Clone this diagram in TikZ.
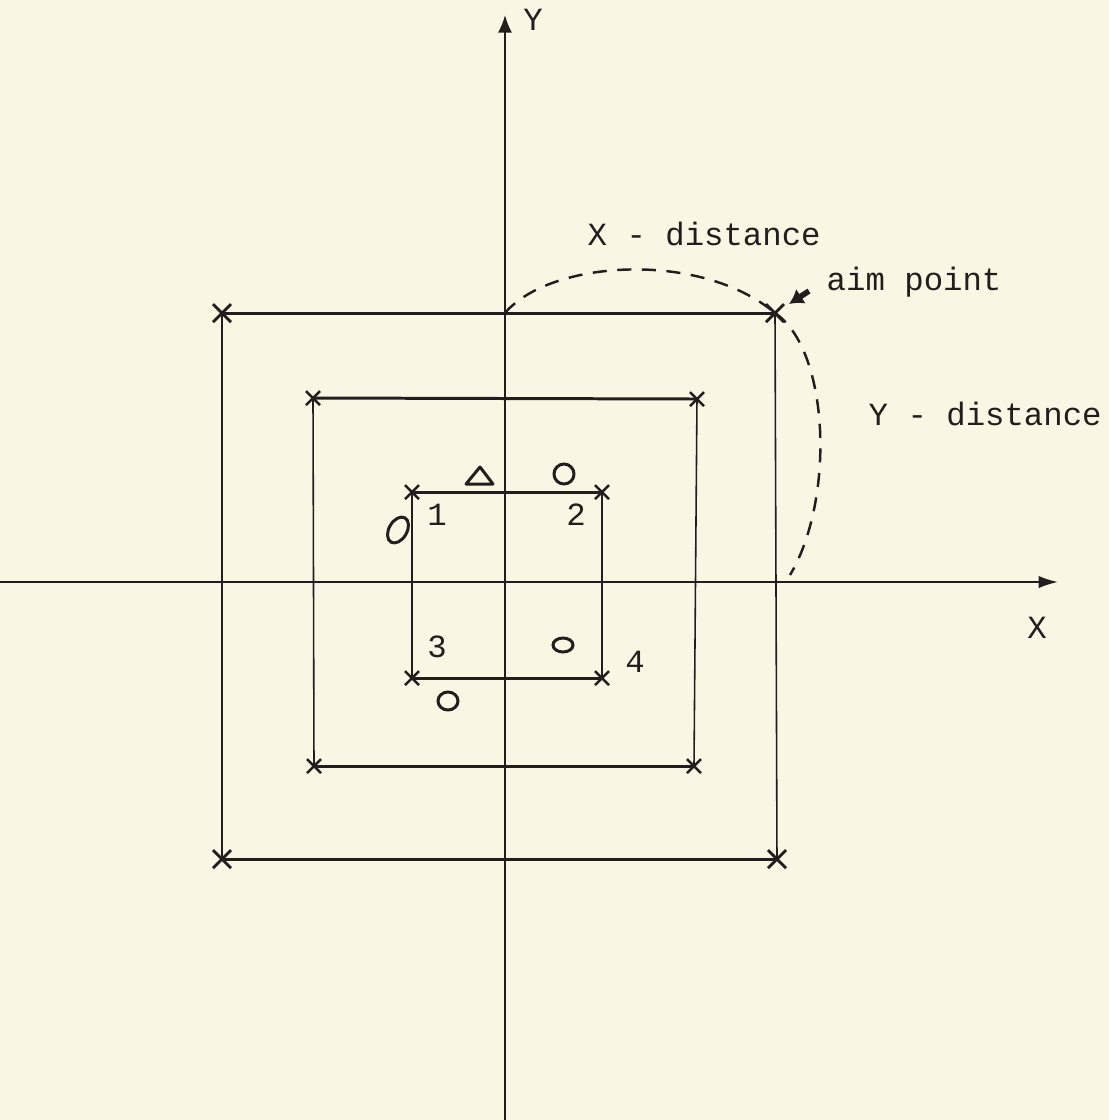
\documentclass[tikz,border=0pt]{standalone}
\usepackage{fontspec}
\setmainfont{Liberation Mono}
\usetikzlibrary{arrows.meta}
\definecolor{paper}{RGB}{250,246,228}
\definecolor{ink}{RGB}{35,30,30}
\tikzset{
  hline/.style={ink, line width=0.85pt},
  vline/.style={ink, line width=0.45pt},
  axisline/.style={ink, line width=0.55pt},
  lbl/.style={font=\fontsize{9.2}{11}\selectfont, text=ink, inner sep=0pt},
  dashcurve/.style={ink, line width=0.7pt, dash pattern=on 4pt off 3pt},
  symb/.style={ink, line width=0.85pt},
  xcr/.pic={\draw[ink, line width=0.7pt] (-7,-7) -- (7,7) (-7,7) -- (7,-7);},
  bigxcr/.pic={\draw[ink, line width=0.8pt] (-9,-9) -- (9,9) (-9,9) -- (9,-9);}
}
\begin{document}
\begin{tikzpicture}[x=0.01cm, y=-0.01cm]
\useasboundingbox (0,0) rectangle (1109,1120);
\fill[paper] (0,0) rectangle (1109,1120);

% axes
\coordinate (yb) at (505,1120);
\coordinate (yt) at (505,15);
\coordinate (xl) at (0,582);
\coordinate (xr) at (1058,582);
\draw[axisline, -{Latex[length=5pt,width=4pt]}] (yb) -- (yt);
\draw[axisline, -{Latex[length=5.5pt,width=3.5pt]}] (xl) -- (xr);
\node[lbl] (ylab) at (533,20) {Y};
\node[lbl] (xlab) at (1037,628) {X};

% outer square
\coordinate (oTL) at (222,313);
\coordinate (oTR) at (775,313);
\coordinate (oBL) at (222,859);
\coordinate (oBR) at (777,859);
\draw[hline] (oTL) -- (oTR);
\draw[hline] (oBL) -- (oBR);
\draw[vline] (oTL) -- (oBL);
\draw[vline] (oTR) -- (oBR);
\foreach \c in {oTL,oTR,oBL,oBR} \pic at (\c) {bigxcr};

% middle square
\coordinate (mTL) at (313,398);
\coordinate (mTR) at (697,399);
\coordinate (mBL) at (314,766);
\coordinate (mBR) at (694,766);
\draw[hline] (mTL) -- (mTR);
\draw[hline] (mBL) -- (mBR);
\draw[vline] (mTL) -- (mBL);
\draw[vline] (mTR) -- (mBR);
\foreach \c in {mTL,mTR,mBL,mBR} \pic at (\c) {xcr};

% inner square
\coordinate (iTL) at (412,492);
\coordinate (iTR) at (602,492);
\coordinate (iBL) at (412,678);
\coordinate (iBR) at (602,678);
\draw[hline] (iTL) -- (iTR);
\draw[hline] (iBL) -- (iBR);
\draw[vline] (iTL) -- (iBL);
\draw[vline] (iTR) -- (iBR);
\foreach \c in {iTL,iTR,iBL,iBR} \pic at (\c) {xcr};

% corner numbers
\node[lbl] (n1) at (437,515) {1};
\node[lbl] (n2) at (576,515) {2};
\node[lbl] (n3) at (437,647) {3};
\node[lbl] (n4) at (635,662) {4};

% impact symbols
\draw[symb, line join=round] (466,484) -- (480,467) -- (493,484) -- cycle;
\draw[symb] (564,474) circle [x radius=10, y radius=10];
\draw[symb] (398,530) circle [x radius=14, y radius=9, rotate=60];
\draw[symb] (563,645) circle [x radius=10, y radius=7];
\draw[symb] (448,701) circle [x radius=10, y radius=9];

% distances
\coordinate (ytop) at (505,313);
\coordinate (xend) at (790,575);
\draw[dashcurve] (ytop) .. controls (550,260) and (700,250) .. (oTR);
\draw[dashcurve] (oTR) .. controls (830,350) and (835,500) .. (xend);
\node[lbl, anchor=base west] (xdist) at (587,245) {X - distance};
\node[lbl, anchor=base west] (ydist) at (868,425) {Y - distance};
\node[lbl, anchor=base west] (aim) at (826,290) {aim point};
\coordinate (aimtail) at (809,291);
\coordinate (aimhead) at (789,304);
\draw[ink, line width=1.6pt, -{Latex[length=4pt,width=5pt]}] (aimtail) -- (aimhead);
\end{tikzpicture}
\end{document}
